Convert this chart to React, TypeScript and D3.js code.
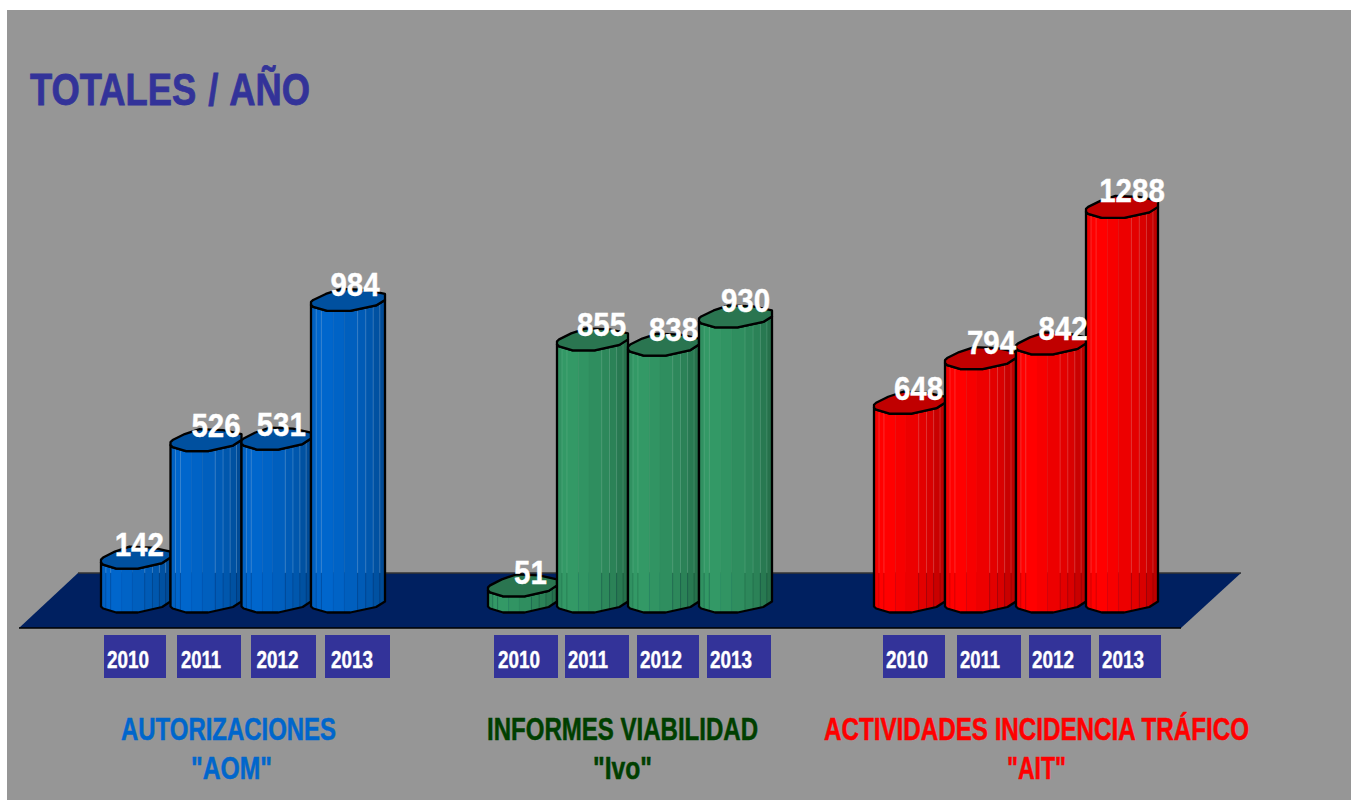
import React from "react";
import * as d3 from "d3";

const years = ["2010", "2011", "2012", "2013"];
const aomValues = [142, 526, 531, 984];
const ivoValues = [51, 855, 838, 930];
const aitValues = [648, 794, 842, 1288];
const aomLabels = ["AUTORIZACIONES", '"AOM"'];
const ivoLabels = ["INFORMES VIABILIDAD", '"Ivo"'];
const aitLabels = ["ACTIVIDADES INCIDENCIA TRÁFICO", '"AIT"'];

const FONT = "'Liberation Sans', Arial, sans-serif";
const BAR_ZERO = 612.5;
const BAR_MAX_Y = 218.4;
const FLOOR_BACK = 573;
const FLOOR_FRONT = 628;

const y = d3.scaleLinear().domain([0, 1288]).range([BAR_ZERO, BAR_MAX_Y]);
const labelY = d3.scaleLinear().domain([0, 1288]).range([599.5, 202]);

const indices = [0, 1, 2, 3, 4];
const groups = [
  {
    values: aomValues, labels: aomLabels,
    edges: [101, 170.5, 241.5, 311, 385],
    base: "#0066cc", top: "#00509f", line: "#8fbff0", titleColor: "#0066cc",
    boxes: [[104, 166], [177, 241], [251, 316], [325, 390]],
    yearX: [107, 181, 256.5, 331],
    nudges: [3.5, 10, 5, 7],
    title: [[121, 215], [191, 81]],
  },
  {
    values: ivoValues, labels: ivoLabels,
    edges: [488, 557, 628, 699, 772],
    base: "#339966", top: "#2a7550", line: "#7cc49f", titleColor: "#003f00",
    boxes: [[494, 558], [565, 629], [637, 699], [707, 771]],
    yearX: [498, 568, 640, 710],
    nudges: [8, 9, 10, 10],
    title: [[487, 271], [593, 59]],
  },
  {
    values: aitValues, labels: aitLabels,
    edges: [874, 945, 1016, 1086, 1158],
    base: "#ff0000", top: "#c00000", line: "#ff8080", titleColor: "#ff0000",
    boxes: [[883, 945], [957, 1021], [1029, 1091], [1099, 1161]],
    yearX: [886, 960, 1032, 1102],
    nudges: [9, 11, 12, 10],
    title: [[824, 425], [1007, 59]],
  },
];

// shape of the extruded bar: fraction of width, vertical offset from the front of the cap
const frontF = [0, 0.03, 0.22, 0.53, 0.88, 1];
const frontDy = [-6, -4, 0, 0, -5.5, -11];
const backF = [1, 0.74, 0.41, 0.2, 0.03, 0];
const backDy = [-17, -21, -22, -17, -11, -9];
const profile = d3.scaleLinear<number>().domain(frontF).range(frontDy);

const facetStops = [0, 0.07, 0.14, 0.3, 0.45, 0.63, 0.74, 0.84, 0.93, 1];
const facetShade = [0.95, 1, 1, 0.97, 0.93, 0.89, 0.85, 0.79, 0.74];
const lineStops = [0.07, 0.14, 0.63, 0.74, 0.84, 0.93];

const path = d3.line<[number, number]>();

function Bar({ g, i }: { g: (typeof groups)[number]; i: number }) {
  const x = d3.scaleLinear().domain(indices).range(g.edges);
  const x0 = x(i);
  const w = x(i + 1) - x0;
  const v = g.values[i];
  const yt = y(v) - 0.5;
  const yb = y(0);
  const px = (f: number) => x0 + f * w;
  const front = frontF.map((f, k) => [px(f), yb + frontDy[k]] as [number, number]);
  const frontTop = frontF.map((f, k) => [px(f), yt + frontDy[k]] as [number, number]);
  const back = backF.map((f, k) => [px(f), yt + backDy[k]] as [number, number]);
  const body = [...front, ...frontTop.slice().reverse()];
  const dark = d3.rgb(g.base);
  const shade = (s: number) => d3.rgb(dark.r * s, dark.g * s, dark.b * s).formatHex();
  const strip = (f0: number, f1: number) => {
    const fs = frontF.filter((f) => f > f0 && f < f1);
    const all = [f0, ...fs, f1];
    const lo = all.map((f) => [px(f), yb + profile(f)] as [number, number]);
    const hi = all.map((f) => [px(f), yt + profile(f)] as [number, number]).reverse();
    return path([...lo, ...hi]) + "Z";
  };
  return (
    <g>
      {facetShade.map((s, k) => (
        <path key={k} d={strip(facetStops[k], facetStops[k + 1])} fill={shade(s)} stroke={shade(s)} strokeWidth={0.3} />
      ))}
      {lineStops.map((f) => {
        const lo = yb + profile(f);
        const hi = yt + profile(f);
        const split = Math.max(FLOOR_BACK, hi);
        return (
          <g key={f}>
            {hi < FLOOR_BACK && (
              <line x1={px(f)} x2={px(f)} y1={hi} y2={FLOOR_BACK} stroke={g.line} strokeOpacity={0.3} strokeWidth={1} />
            )}
            <line x1={px(f)} x2={px(f)} y1={split} y2={lo} stroke="#000" strokeOpacity={0.12} strokeWidth={1} />
          </g>
        );
      })}
      <path d={path(body) + "Z"} fill="none" stroke="#000" strokeWidth={2.3} strokeLinejoin="round" />
      <path d={path([...frontTop, ...back]) + "Z"} fill={g.top} stroke="#000" strokeWidth={2.3} strokeLinejoin="round" />
    </g>
  );
}

export default function App() {
  return (
    <svg width={1351} height={800} style={{ position: "absolute", left: 0, top: 0, background: "#fff" }} fontFamily={FONT} fontWeight="bold">
      <rect x={7} y={10} width={1344} height={790} fill="#969696" />
      <text x={30} y={105} fontSize={45} fill="#333399" stroke="#333399" strokeWidth={0.8} wordSpacing={2.5} textLength={280} lengthAdjust="spacingAndGlyphs">TOTALES / AÑO</text>

      <path
        d={path([[19, FLOOR_FRONT], [1181, FLOOR_FRONT], [1241, FLOOR_BACK], [78, FLOOR_BACK]]) + "Z"}
        fill="#002060"
      />
      <line x1={78} x2={1241} y1={FLOOR_BACK} y2={FLOOR_BACK} stroke="#333" strokeWidth={1.5} />
      <line x1={19} x2={1181} y1={FLOOR_FRONT} y2={FLOOR_FRONT} stroke="#000" strokeWidth={1.5} />

      {groups.map((g, gi) => (
        <g key={gi}>
          {g.values.map((_, i) => <Bar key={i} g={g} i={i} />)}
        </g>
      ))}

      {groups.map((g, gi) => {
        const x = d3.scaleLinear().domain(indices).range(g.edges);
        return (
          <g key={gi}>
            {g.values.map((v, i) => (
              <text
                key={i}
                x={(x(i) + x(i + 1)) / 2 + g.nudges[i]}
                y={labelY(v)}
                fontSize={34}
                fill="#fff"
                stroke="#fff"
                strokeWidth={0.4}
                textAnchor="middle"
                textLength={String(v).length * 16.4}
                lengthAdjust="spacingAndGlyphs"
              >
                {v}
              </text>
            ))}
            {years.map((yr, i) => {
              const [a, b] = g.boxes[i];
              return (
                <g key={yr}>
                  <rect x={a} y={635} width={b - a} height={43} fill="#333399" />
                  <text x={g.yearX[i]} y={668} fontSize={24.5} fill="#fff" stroke="#fff" strokeWidth={0.4} textLength={i === 1 ? 40 : 42} lengthAdjust="spacingAndGlyphs">{yr}</text>
                </g>
              );
            })}
            {g.labels.map((t, k) => (
              <text
                key={k}
                x={g.title[k][0]}
                y={k === 0 ? 740 : 779}
                fontSize={30.5}
                fill={g.titleColor}
                stroke={g.titleColor}
                strokeWidth={0.5}
                textLength={g.title[k][1]}
                lengthAdjust="spacingAndGlyphs"
              >
                {t}
              </text>
            ))}
          </g>
        );
      })}
    </svg>
  );
}
